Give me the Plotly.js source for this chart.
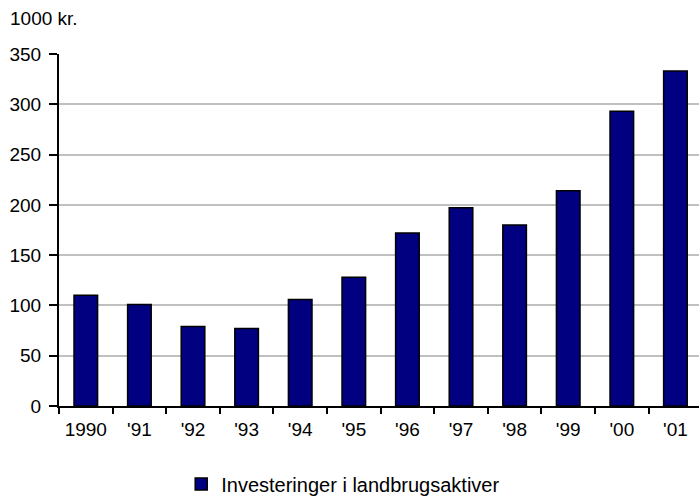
<!DOCTYPE html>
<html>
<head>
<meta charset="utf-8">
<script src="https://cdn.plot.ly/plotly-3.0.1.min.js"></script>
<style>html,body{margin:0;padding:0;background:#fff;}#chart{width:699px;height:496px;}</style>
</head>
<body>
<div id="chart"></div>
<script>
const categories = ["1990", "'91", "'92", "'93", "'94", "'95", "'96", "'97", "'98", "'99", "'00", "'01"];
const values = [110, 101, 79, 77, 106, 128, 172, 197, 180, 214, 293, 333];
const seriesName = "Investeringer i landbrugsaktiver";
const yTicks = [0, 50, 100, 150, 200, 250, 300, 350];

const font = "Liberation Sans, Arial, sans-serif";
const fs = 19;

Plotly.newPlot("chart", [{
  type: "bar",
  x: categories,
  y: values,
  name: seriesName,
  marker: {color: "#000080", line: {color: "#000000", width: 1.5}},
  showlegend: true
}], {
  width: 699, height: 496,
  margin: {l: 59, r: 0, t: 54, b: 90},
  paper_bgcolor: "#ffffff", plot_bgcolor: "#ffffff",
  font: {family: font, size: fs, color: "#000000"},
  bargap: 0.56,
  showlegend: true,
  xaxis: {
    type: "category",
    range: [-0.5, 11.44],
    showline: true, linecolor: "#000000", linewidth: 2,
    ticks: "outside", ticklen: 6, tickwidth: 2, tickcolor: "#000000",
    tickson: "boundaries",
    showgrid: false,
    tickfont: {family: font, size: fs},
    ticklabelstandoff: 5,
    zeroline: false,
    automargin: false
  },
  yaxis: {
    range: [0, 350],
    tickvals: yTicks,
    showline: true, linecolor: "#000000", linewidth: 2,
    ticks: "outside", ticklen: 8, tickwidth: 2, tickcolor: "#000000",
    showgrid: true, gridcolor: "#c0c0c0", gridwidth: 2,
    zeroline: false,
    tickfont: {family: font, size: fs},
    ticklabelstandoff: 4,
    automargin: false
  },
  legend: {
    orientation: "h",
    xref: "container", yref: "container",
    x: 0.491, xanchor: "center",
    y: 0.024, yanchor: "middle",
    font: {family: font, size: 20},
    itemwidth: 30
  },
  annotations: [{
    text: "1000 kr.",
    xref: "paper", yref: "paper",
    x: -0.0797, xanchor: "left",
    y: 1.102, yanchor: "middle",
    showarrow: false,
    font: {family: font, size: fs}
  }]
}, {displayModeBar: false, staticPlot: true});
</script>
</body>
</html>
